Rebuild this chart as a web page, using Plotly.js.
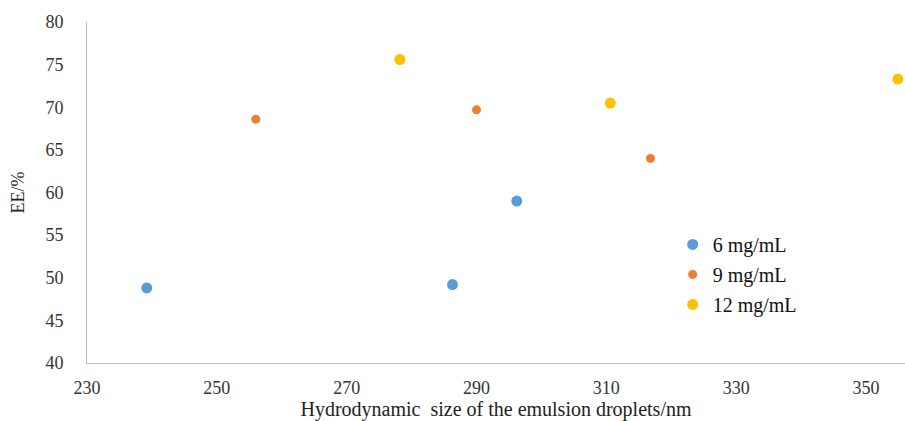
<!DOCTYPE html>
<html>
<head>
<meta charset="utf-8">
<script src="https://cdn.plot.ly/plotly-3.0.1.min.js"></script>
<style>html,body{margin:0;padding:0;background:#fff}#chart{width:905px;height:421px}</style>
</head>
<body>
<div id="chart"></div>
<script>
const seriesNames = ["6 mg/mL", "9 mg/mL", "12 mg/mL"];
const size6 = [239.2, 286.3, 296.2];
const ee6 = [48.8, 49.2, 59.0];
const size9 = [256.0, 290.0, 316.8];
const ee9 = [68.6, 69.7, 64.0];
const size12 = [278.2, 310.6, 354.9];
const ee12 = [75.6, 70.5, 73.3];
const xTicks = [230, 250, 270, 290, 310, 330, 350];
const yTicks = [40, 45, 50, 55, 60, 65, 70, 75, 80];

const colors = ["#5B9BD5", "#ED7D31", "#FFC000"];
const sizes = [11, 9, 11];
const xs = [size6, size9, size12];
const ys = [ee6, ee9, ee12];

const traces = seriesNames.map((n, i) => ({
  type: "scatter", mode: "markers", name: n, x: xs[i], y: ys[i],
  legendgroup: "g" + i, cliponaxis: false,
  marker: {color: colors[i], size: sizes[i], line: {width: 0}}
}));

const serif = "'Liberation Serif', 'Times New Roman', serif";
const layout = {
  width: 905, height: 421,
  margin: {l: 87, r: 0, t: 22, b: 58},
  paper_bgcolor: "#fff", plot_bgcolor: "#fff",
  font: {family: serif, size: 18, color: "#222"},
  showlegend: true,
  legend: {x: 0.716, y: 0.405, xanchor: "left", yanchor: "top", tracegroupgap: 1,
           font: {family: serif, size: 20, color: "#111"}, bgcolor: "rgba(0,0,0,0)", itemwidth: 30},
  xaxis: {range: [230, 356], tickvals: xTicks, ticktext: xTicks.map(String), showgrid: false, zeroline: false,
          showline: true, linecolor: "#BFBFBF", linewidth: 1, ticks: "outside", ticklen: 8, tickcolor: "rgba(0,0,0,0)",
          tickfont: {family: serif, size: 18, color: "#333"},
          title: {text: "Hydrodynamic  size of the emulsion droplets/nm", font: {family: serif, size: 20, color: "#222"}, standoff: 5}},
  yaxis: {range: [40, 80], tickvals: yTicks, ticktext: yTicks.map(String), showgrid: false, zeroline: false,
          showline: true, linecolor: "#BFBFBF", linewidth: 1, ticks: "outside", ticklen: 19, tickcolor: "rgba(0,0,0,0)",
          tickfont: {family: serif, size: 18, color: "#333"},
          title: {text: "EE/%", font: {family: serif, size: 18, color: "#222"}, standoff: 16}}
};
Plotly.newPlot("chart", traces, layout, {displayModeBar: false, staticPlot: true});
</script>
</body>
</html>
